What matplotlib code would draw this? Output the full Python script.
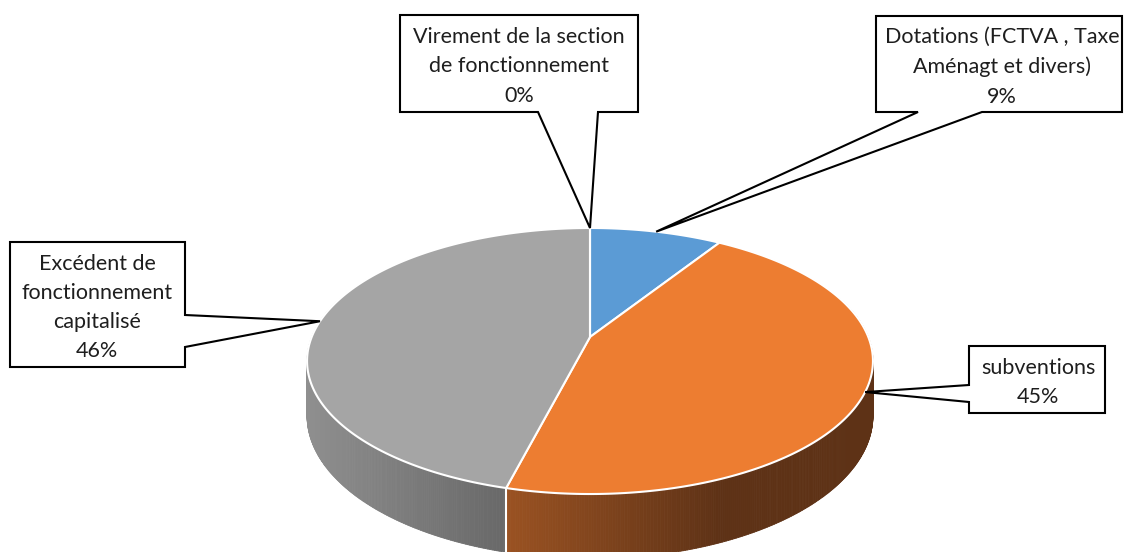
import numpy as np
import matplotlib.pyplot as plt
from matplotlib.patches import Polygon
from matplotlib.collections import PolyCollection
from matplotlib.colors import to_rgb

# données (ordre Excel, depuis le haut, sens horaire)
labels = ['Dotations (FCTVA , Taxe\nAménagt et divers)',
          'subventions',
          'Excédent de\nfonctionnement\ncapitalisé',
          'Virement de la section\nde fonctionnement']
values = [9.0, 45.0, 46.0, 0.0]
colors = ['#5B9BD5', '#ED7D31', '#A5A5A5', '#FFC000']

# couleurs des flancs (gauche -> droite, plage x du dégradé)
side_shades = {1: ('#9a5222', '#5e3216', 507, 720),
               2: ('#8f8f8f', '#686868', 307, 507)}

# perspective du camembert 3D
cx, rx0 = 590, 278.3
pa, pb, pc = 67.85, 337.0, -0.1805
d0 = 53


def proj(phi):
    # phi : angle en degrés, sens horaire depuis le haut
    t = np.radians(phi)
    u, v = np.sin(t), -np.cos(t)
    den = 1 + pc * v
    return cx + rx0 * u / den, (pa * v + pb) / den, v, den


plt.rcParams['font.family'] = ['Lato', 'DejaVu Sans']
fig = plt.figure(figsize=(11.24, 5.52), dpi=100)
ax = fig.add_axes([0, 0, 1, 1])

fr = np.array(values) / sum(values)
bounds = np.concatenate([[0], np.cumsum(fr) * 360])
pcts = fr * 100

# flancs
for i in range(len(values)):
    a, b = bounds[i], bounds[i + 1]
    if b <= a or i not in side_shades:
        continue
    c0, c1, xa, xb = side_shades[i]
    phi = np.linspace(a, b, 400)
    xs, yt, v, den = proj(phi)
    keep = v > -0.3
    xs, yt, den = xs[keep], yt[keep], den[keep]
    yb = yt + d0 / den
    quads, cols = [], []
    for k in range(len(xs) - 1):
        quads.append([(xs[k], yt[k]), (xs[k + 1], yt[k + 1]),
                      (xs[k + 1], yb[k + 1]), (xs[k], yb[k])])
        f = np.clip((0.5 * (xs[k] + xs[k + 1]) - xa) / (xb - xa), 0, 1)
        cols.append(tuple(np.array(to_rgb(c0)) * (1 - f) + np.array(to_rgb(c1)) * f))
    ax.add_collection(PolyCollection(quads, facecolors=cols, edgecolors=cols,
                                     linewidths=0.6, zorder=1))

# arêtes blanches sur le flanc
for p in bounds[1:-1]:
    x0, y0, v0, den0 = proj(p)
    if v0 > 0.15:
        ax.plot([x0, x0], [y0, y0 + d0 / den0], color='white', lw=1.5, zorder=2)

# dessus
for i in range(len(values)):
    a, b = bounds[i], bounds[i + 1]
    phi = np.linspace(a, b, max(2, int((b - a) * 2)))
    xs, ys, _, _ = proj(phi)
    pts = [(cx, pb)] + list(zip(xs, ys))
    ax.add_patch(Polygon(pts, closed=True, facecolor=colors[i], edgecolor='white',
                         lw=1.5, joinstyle='round', zorder=3))


def callout(box, side, base, i, tx=None):
    x0, y0, x1, y1 = box
    tx_, ty_, _, _ = proj((bounds[i] + bounds[i + 1]) / 2)
    tip = (tx_, ty_)
    if side == 'bottom':
        pts = [(x0, y0), (x1, y0), (x1, y1), (base[1], y1), tip, (base[0], y1), (x0, y1)]
    elif side == 'left':
        pts = [(x0, y0), (x1, y0), (x1, y1), (x0, y1), (x0, base[1]), tip, (x0, base[0])]
    else:
        pts = [(x0, y0), (x1, y0), (x1, base[0]), tip, (x1, base[1]), (x1, y1), (x0, y1)]
    ax.add_patch(Polygon(pts, closed=True, facecolor='white', edgecolor='black',
                         lw=1.5, zorder=5))
    if tx is None:
        tx = (x0 + x1) / 2
    ax.text(tx, (y0 + y1) / 2 + 3, f"{labels[i]}\n{pcts[i]:.0f}%", ha='center',
            va='center', fontsize=15.5, color='#1e1e1e', linespacing=1.58, zorder=6)


callout((876, 16, 1122, 112), 'bottom', (918, 982), 0, tx=1002)
callout((969, 346, 1105, 413), 'left', (385, 402), 1, tx=1038)
callout((10, 242, 185, 367), 'right', (315, 347), 2, tx=97)
callout((400, 15, 638, 112), 'bottom', (538, 598), 3)

ax.set_xlim(0, 1124)
ax.set_ylim(552, 0)
ax.axis('off')

fig.savefig('out.png', dpi=100)
